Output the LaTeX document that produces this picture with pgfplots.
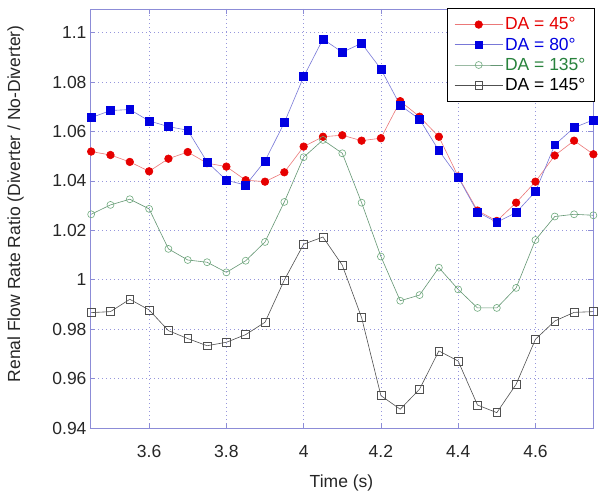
\documentclass[border=0pt]{standalone}
\usepackage{pgfplots}
\pgfplotsset{compat=1.18}
\usepackage{fontspec}
\setmainfont{Liberation Sans}
\definecolor{axcol}{RGB}{140,140,215}
\definecolor{gridcol}{RGB}{150,150,220}
\definecolor{redm}{RGB}{230,0,0}
\definecolor{redl}{RGB}{235,120,120}
\definecolor{bluem}{RGB}{0,0,225}
\definecolor{bluel}{RGB}{120,120,215}
\definecolor{greenm}{RGB}{110,170,125}
\definecolor{greenl}{RGB}{100,150,115}
\definecolor{greent}{RGB}{40,130,60}
\definecolor{grayl}{RGB}{80,80,80}
\begin{document}
\begin{tikzpicture}
\begin{axis}[
  scale only axis, width=503pt, height=419pt,
  xmin=3.447, xmax=4.749, ymin=0.94, ymax=1.1096,
  clip=false,
  xtick={3.6,3.8,4,4.2,4.4,4.6},
  ytick={0.94,0.96,0.98,1,1.02,1.04,1.06,1.08,1.1},
  /pgf/number format/assume math mode=true,
  grid=major,
  major grid style={gridcol, line width=0.7pt, dash pattern=on 1pt off 3pt},
  axis line style={axcol, line width=0.8pt},
  tick style={axcol, line width=0.8pt},
  tick align=inside,
  major tick length=5pt,
  tick label style={font=\fontsize{17.5}{20}\selectfont, black!85},
  label style={font=\fontsize{17.5}{20}\selectfont, black!85},
  xticklabel style={yshift=-14pt},
  xlabel style={yshift=-10pt},
  ylabel style={at={(axis description cs:-0.148,0.535)}, anchor=center},
  xlabel={Time (s)},
  ylabel={Renal Flow Rate Ratio (Diverter / No-Diverter)},
  legend style={at={(1.004,1.002)}, anchor=north east, draw=black, line width=1.1pt,
    font=\fontsize{17.5}{20}\selectfont, row sep=2.5pt, inner xsep=7pt, inner ysep=7pt},
  legend cell align=left,
  legend image code/.code={\draw[mark repeat=2,mark phase=2,#1] plot coordinates {(0pt,0pt) (24pt,0pt) (48pt,0pt)};},
]
\addplot[color=redl, line width=0.6pt, mark=*, mark size=3.8pt, mark options={draw=redm, fill=redm}]
coordinates {
(3.45,1.0519)(3.50,1.0505)(3.55,1.0477)(3.60,1.0439)(3.65,1.0490)(3.70,1.0517)(3.75,1.0472)
(3.80,1.0458)(3.85,1.0403)(3.90,1.0397)(3.95,1.0435)(4.00,1.0539)(4.05,1.0579)(4.10,1.0585)
(4.15,1.0563)(4.20,1.0573)(4.25,1.0723)(4.30,1.0660)(4.35,1.0579)(4.40,1.0418)(4.45,1.0280)
(4.50,1.0238)(4.55,1.0312)(4.60,1.0397)(4.65,1.0503)(4.70,1.0563)(4.75,1.0508)};
\addlegendentry{\textcolor{redm}{DA = 45°}}
\addplot[color=bluel, line width=0.6pt, mark=square*, mark size=3.9pt, mark options={draw=bluem, fill=bluem}]
coordinates {
(3.45,1.0656)(3.50,1.0685)(3.55,1.0689)(3.60,1.0643)(3.65,1.0620)(3.70,1.0605)(3.75,1.0477)
(3.80,1.0403)(3.85,1.0383)(3.90,1.0481)(3.95,1.0636)(4.00,1.0822)(4.05,1.0974)(4.10,1.0921)
(4.15,1.0957)(4.20,1.0853)(4.25,1.0706)(4.30,1.0650)(4.35,1.0523)(4.40,1.0415)(4.45,1.0274)
(4.50,1.0233)(4.55,1.0272)(4.60,1.0357)(4.65,1.0546)(4.70,1.0616)(4.75,1.0647)};
\addlegendentry{\textcolor{bluem}{DA = 80°}}
\addplot[color=greenl, line width=0.6pt, mark=o, mark size=3.5pt, mark options={draw=greenm, fill=none}]
coordinates {
(3.45,1.0265)(3.50,1.0303)(3.55,1.0326)(3.60,1.0287)(3.65,1.0125)(3.70,1.0080)(3.75,1.0071)
(3.80,1.0030)(3.85,1.0077)(3.90,1.0153)(3.95,1.0315)(4.00,1.0496)(4.05,1.0566)(4.10,1.0512)
(4.15,1.0312)(4.20,1.0094)(4.25,0.9915)(4.30,0.9938)(4.35,1.0049)(4.40,0.9961)(4.45,0.9886)
(4.50,0.9886)(4.55,0.9967)(4.60,1.0161)(4.65,1.0256)(4.70,1.0265)(4.75,1.0261)};
\addlegendentry{\textcolor{greent}{DA = 135°}}
\addplot[color=grayl, line width=0.6pt, mark=square, mark size=3.9pt, mark options={draw=grayl, fill=none}]
coordinates {
(3.45,0.9867)(3.50,0.9871)(3.55,0.9921)(3.60,0.9878)(3.65,0.9794)(3.70,0.9762)(3.75,0.9733)
(3.80,0.9747)(3.85,0.9778)(3.90,0.9828)(3.95,0.9999)(4.00,1.0144)(4.05,1.0173)(4.10,1.0059)
(4.15,0.9847)(4.20,0.9531)(4.25,0.9476)(4.30,0.9557)(4.35,0.9712)(4.40,0.9671)(4.45,0.9493)
(4.50,0.9462)(4.55,0.9577)(4.60,0.9759)(4.65,0.9833)(4.70,0.9868)(4.75,0.9871)};
\addlegendentry{\textcolor{black}{DA = 145°}}
\end{axis}
\path (current axis.south west) ++(-90pt,-68pt) coordinate (bbA);
\path (current axis.north east) ++(11pt,9pt) coordinate (bbB);
\path (bbA) rectangle (bbB);
\end{tikzpicture}
\end{document}
